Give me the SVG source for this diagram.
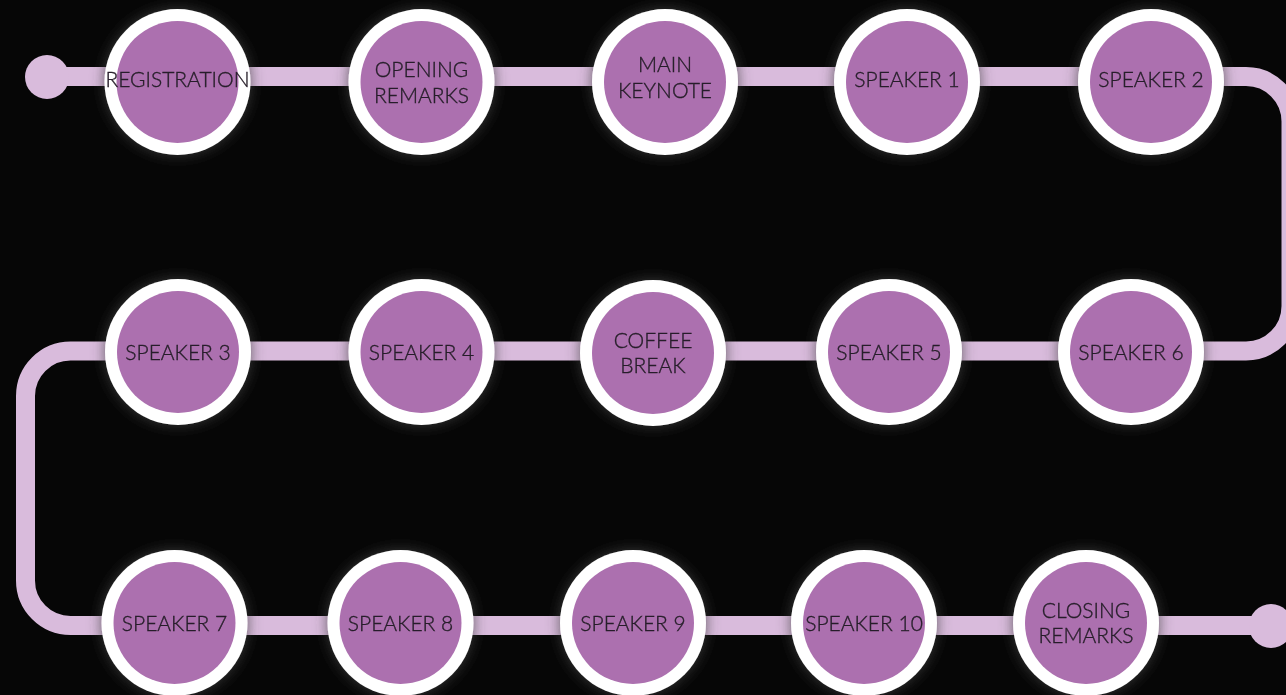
<svg xmlns="http://www.w3.org/2000/svg" width="1286" height="695" viewBox="0 0 1286 695">
  <defs>
    <filter id="halo" x="-40%" y="-40%" width="180%" height="180%">
      <feGaussianBlur in="SourceAlpha" stdDeviation="7" result="b"/>
      <feFlood flood-color="#444444" flood-opacity="0.8"/>
      <feComposite in2="b" operator="in" result="s"/>
      <feMerge>
        <feMergeNode in="s"/>
        <feMergeNode in="SourceGraphic"/>
      </feMerge>
    </filter>
    <style>
      .track { fill: none; stroke: #D9BBDC; stroke-width: 19; }
      .dot { fill: #D9BBDC; }
      .ring { fill: #FFFFFF; }
      .core { fill: #AC6FAF; }
      .node { filter: url(#halo); }
      .lbl { font-family: Lato, "Liberation Sans", sans-serif; font-size: 21px; font-weight: 300; fill: #28202b; stroke: #28202b; stroke-width: 0.35; text-anchor: middle; }
    </style>
  </defs>

  <rect width="1286" height="695" fill="#060606"/>

  <!-- the snake-shaped timeline track -->
  <g id="connectors">
    <path class="track" d="M47,76.5 H1246 A45,45 0 0 1 1291,121.5 V306 A45,45 0 0 1 1246,351 H70.5 A45,45 0 0 0 25.5,396 V580.5 A45,45 0 0 0 70.5,625.5 H1271"/>
    <circle class="dot" cx="47" cy="77" r="22"/>
    <circle class="dot" cx="1271" cy="626" r="22"/>
  </g>

  <!-- row 1 -->
  <g id="registration" class="node">
    <circle class="ring" cx="177.5" cy="82" r="73"/>
    <circle class="core" cx="177.5" cy="82" r="61"/>
    <text class="lbl" x="177.5" y="87">REGISTRATION</text>
  </g>
  <g id="opening-remarks" class="node">
    <circle class="ring" cx="421.5" cy="82" r="73"/>
    <circle class="core" cx="421.5" cy="82" r="61"/>
    <text class="lbl" x="421.5" y="77">OPENING</text>
    <text class="lbl" x="421.5" y="103">REMARKS</text>
  </g>
  <g id="main-keynote" class="node">
    <circle class="ring" cx="665" cy="82" r="73"/>
    <circle class="core" cx="665" cy="82" r="61"/>
    <text class="lbl" x="665" y="72">MAIN</text>
    <text class="lbl" x="665" y="98">KEYNOTE</text>
  </g>
  <g id="speaker-1" class="node">
    <circle class="ring" cx="907" cy="82" r="73"/>
    <circle class="core" cx="907" cy="82" r="61"/>
    <text class="lbl" x="907" y="87">SPEAKER 1</text>
  </g>
  <g id="speaker-2" class="node">
    <circle class="ring" cx="1151" cy="82" r="73"/>
    <circle class="core" cx="1151" cy="82" r="61"/>
    <text class="lbl" x="1151" y="87">SPEAKER 2</text>
  </g>

  <!-- row 2 -->
  <g id="speaker-3" class="node">
    <circle class="ring" cx="178" cy="352" r="73"/>
    <circle class="core" cx="178" cy="352" r="61"/>
    <text class="lbl" x="178" y="359.5">SPEAKER 3</text>
  </g>
  <g id="speaker-4" class="node">
    <circle class="ring" cx="421.5" cy="352" r="73"/>
    <circle class="core" cx="421.5" cy="352" r="61"/>
    <text class="lbl" x="421.5" y="360">SPEAKER 4</text>
  </g>
  <g id="coffee-break" class="node">
    <circle class="ring" cx="653" cy="353" r="73"/>
    <circle class="core" cx="653" cy="353" r="61"/>
    <text class="lbl" x="653" y="348">COFFEE</text>
    <text class="lbl" x="653" y="373">BREAK</text>
  </g>
  <g id="speaker-5" class="node">
    <circle class="ring" cx="889" cy="352" r="73"/>
    <circle class="core" cx="889" cy="352" r="61"/>
    <text class="lbl" x="889" y="360">SPEAKER 5</text>
  </g>
  <g id="speaker-6" class="node">
    <circle class="ring" cx="1131" cy="352" r="73"/>
    <circle class="core" cx="1131" cy="352" r="61"/>
    <text class="lbl" x="1131" y="360">SPEAKER 6</text>
  </g>

  <!-- row 3 -->
  <g id="speaker-7" class="node">
    <circle class="ring" cx="174.5" cy="623" r="73"/>
    <circle class="core" cx="174.5" cy="623" r="61"/>
    <text class="lbl" x="174.5" y="631">SPEAKER 7</text>
  </g>
  <g id="speaker-8" class="node">
    <circle class="ring" cx="400.5" cy="623" r="73"/>
    <circle class="core" cx="400.5" cy="623" r="61"/>
    <text class="lbl" x="400.5" y="631">SPEAKER 8</text>
  </g>
  <g id="speaker-9" class="node">
    <circle class="ring" cx="633" cy="623" r="73"/>
    <circle class="core" cx="633" cy="623" r="61"/>
    <text class="lbl" x="633" y="631">SPEAKER 9</text>
  </g>
  <g id="speaker-10" class="node">
    <circle class="ring" cx="864" cy="623" r="73"/>
    <circle class="core" cx="864" cy="623" r="61"/>
    <text class="lbl" x="864" y="631">SPEAKER 10</text>
  </g>
  <g id="closing-remarks" class="node">
    <circle class="ring" cx="1086" cy="623" r="73"/>
    <circle class="core" cx="1086" cy="623" r="61"/>
    <text class="lbl" x="1086" y="618">CLOSING</text>
    <text class="lbl" x="1086" y="643">REMARKS</text>
  </g>
</svg>
